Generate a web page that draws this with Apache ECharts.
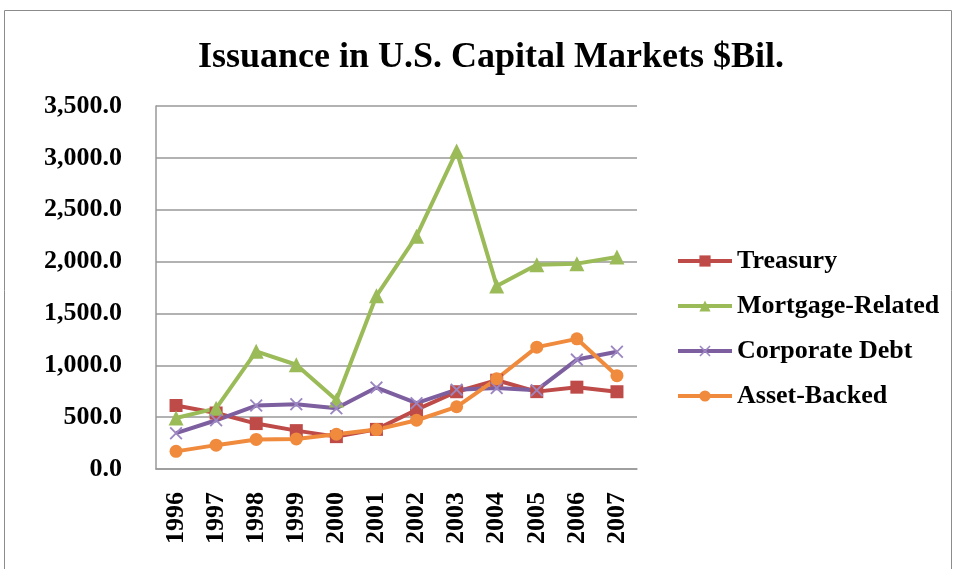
<!DOCTYPE html>
<html><head><meta charset="utf-8">
<script src="https://cdn.jsdelivr.net/npm/echarts@6/dist/echarts.min.js"></script>
<style>html,body{margin:0;padding:0;background:#fff}#c{width:955px;height:569px}</style>
</head><body><div id="c"></div>
<script>
const years = ['1996','1997','1998','1999','2000','2001','2002','2003','2004','2005','2006','2007'];
const treasury = [612, 540, 438, 370, 312, 382, 572, 745, 856, 746, 789, 745];
const mortgage = [492, 585, 1135, 1005, 665, 1670, 2245, 3065, 1765, 1970, 1980, 2045];
const corporate = [345, 470, 612, 625, 585, 785, 635, 765, 780, 760, 1055, 1130];
const assetBacked = [170, 230, 285, 290, 335, 380, 470, 600, 870, 1175, 1255, 900];
const seriesNames = ['Treasury', 'Mortgage-Related', 'Corporate Debt', 'Asset-Backed'];
const colors = ['#BE4B48', '#9BBB59', '#7D5FA0', '#F08A3C'];
const serif = '"Liberation Serif", "Times New Roman", serif';
const crossPath = 'path://M0,1L1,0L5,4L9,0L10,1L6,5L10,9L9,10L5,6L1,10L0,9L4,5Z';

const chart = echarts.init(document.getElementById('c'), null, {renderer: 'canvas'});
function mk(name, data, color, symbol, size, extra) {
  return Object.assign({
    name: name, type: 'line', data: data, symbol: symbol, symbolSize: size,
    lineStyle: {color: color, width: 4}, itemStyle: {color: color},
    animation: false
  }, extra || {});
}
chart.setOption({
  animation: false,
  graphic: [{type: 'rect', shape: {x: 4.5, y: 10.5, width: 947, height: 580}, style: {fill: 'none', stroke: '#8c8c8c', lineWidth: 1}, silent: true}],
  title: {text: 'Issuance in U.S. Capital Markets $Bil.', left: 486, textAlign: 'center', top: 35,
    textStyle: {fontFamily: serif, fontWeight: 'bold', fontSize: 36, color: '#000'}},
  legend: {orient: 'vertical', left: 671, top: 243, itemGap: 19, itemWidth: 54, itemHeight: 14,
    data: seriesNames,
    lineStyle: {width: 4},
    textStyle: {fontFamily: serif, fontWeight: 'bold', fontSize: 26, color: '#000'}},
  grid: {left: 156, right: 318, top: 106, bottom: 100},
  xAxis: {type: 'category', data: years, boundaryGap: true,
    axisLine: {lineStyle: {color: '#999', width: 1.5}}, axisTick: {show: false},
    axisLabel: {rotate: 90, fontFamily: serif, fontWeight: 'bold', fontSize: 26, color: '#000', margin: 23}},
  yAxis: {type: 'value', min: 0, max: 3500, interval: 500,
    axisLine: {show: true, lineStyle: {color: '#999', width: 1.5}}, axisTick: {show: false},
    splitLine: {lineStyle: {color: '#999', width: 1.5}},
    axisLabel: {fontFamily: serif, fontWeight: 'bold', fontSize: 26, color: '#000', margin: 34, padding: [6, 0, 0, 0],
      formatter: v => v.toLocaleString('en-US', {minimumFractionDigits: 1, maximumFractionDigits: 1})}},
  series: [
    mk(seriesNames[0], treasury, colors[0], 'rect', 13),
    mk(seriesNames[1], mortgage, colors[1], 'triangle', 15),
    mk(seriesNames[2], corporate, colors[2], crossPath, 13, {itemStyle: {color: '#9C86C2'}}),
    mk(seriesNames[3], assetBacked, colors[3], 'circle', 13)
  ]
});
</script></body></html>
